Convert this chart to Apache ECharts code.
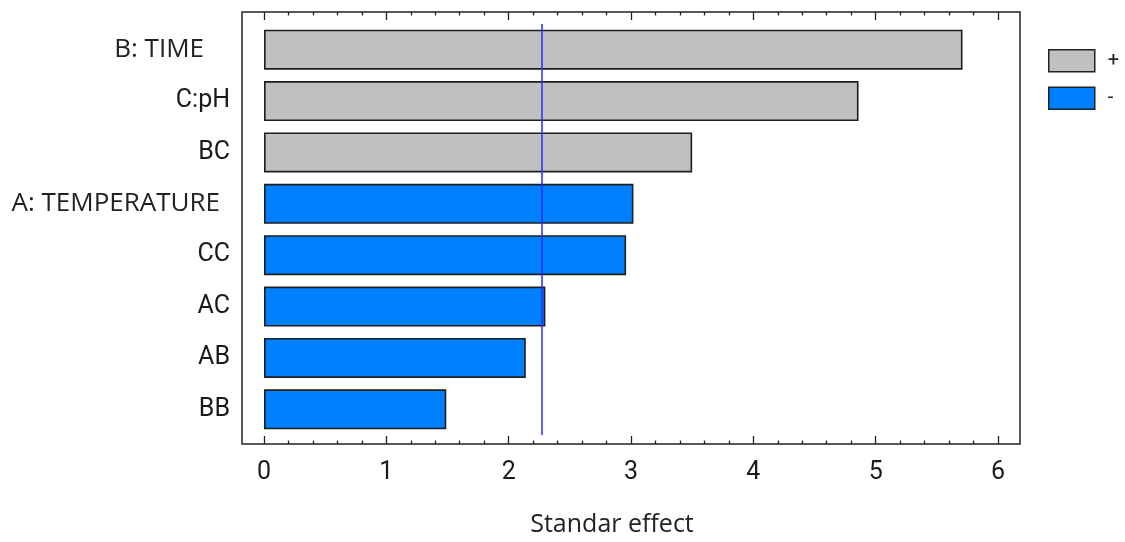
<!DOCTYPE html>
<html>
<head>
<meta charset="utf-8">
<script src="https://cdn.jsdelivr.net/npm/echarts@6/dist/echarts.min.js"></script>
<style>
html,body{margin:0;padding:0;background:#fff;}
#chart{width:1125px;height:542px;}
</style>
</head>
<body>
<div id="chart"></div>
<script>
// ---- data ----
const categories = ['B: TIME', 'C:pH', 'BC', 'A: TEMPERATURE', 'CC', 'AC', 'AB', 'BB'];
const effects    = [5.71, 4.86, 3.50, 3.02, 2.96, 2.30, 2.14, 1.49];
const signs      = ['+', '+', '+', '-', '-', '-', '-', '-'];
const criticalValue = 2.27;
const majorTicks = [0, 1, 2, 3, 4, 5, 6];
const minorTicks = [];
for (let i = 0; i < 6; i++) { for (let j = 1; j < 5; j++) { minorTicks.push(+(i + j * 0.2).toFixed(1)); } }
const xTitle = 'Standar effect';

const NARROW = "Roboto,'Liberation Sans',sans-serif";
const WIDE = "'Open Sans','Noto Sans',sans-serif";
const wideLabels = { 'B: TIME': 'w1', 'A: TEMPERATURE': 'w2' };

const plusData = effects.map((v, i) => signs[i] === '+' ? v : '-');
const minusData = effects.map((v, i) => signs[i] === '-' ? v : '-');

const XMIN = -0.18, XMAX = 6.18;
const tickAxis = (pos, values, len, labels) => ({
  type: 'value', gridIndex: 1, position: pos, min: XMIN, max: XMAX,
  axisLine: { show: false }, splitLine: { show: false },
  axisTick: { show: true, inside: true, length: len, customValues: values,
              lineStyle: { color: '#222', width: 1.3 } },
  axisLabel: labels ? { show: true, customValues: values, fontFamily: NARROW,
                        fontSize: 25, color: '#1a1a1a', margin: 16 } : { show: false }
});

const chart = echarts.init(document.getElementById('chart'), null, { renderer: 'canvas' });
const option = {
  animation: false,
  backgroundColor: '#fff',
  grid: [
    { left: 242, right: 105, top: 24, bottom: 107, show: false },
    { left: 242, right: 105, top: 12, bottom: 96, show: true, borderColor: '#222', borderWidth: 1.5, backgroundColor: 'transparent' }
  ],
  legend: {
    orient: 'vertical', left: 1043, top: 44, itemWidth: 46, itemHeight: 22, itemGap: 14,
    icon: 'rect',
    data: ['+', '-'],
    itemStyle: { borderColor: '#222', borderWidth: 1.5 },
    textStyle: { fontFamily: NARROW, fontSize: 20, color: '#222', padding: [0, 0, 0, 8] }
  },
  xAxis: [
    { type: 'value', gridIndex: 0, min: XMIN, max: XMAX, show: false },
    Object.assign(tickAxis('bottom', majorTicks, 8, true), {
      name: xTitle, nameLocation: 'middle', nameGap: 68,
      nameTextStyle: { fontFamily: WIDE, fontSize: 25, color: '#222', padding: [0, 38, 0, 0] }
    }),
    tickAxis('bottom', minorTicks, 3.5, false),
    tickAxis('top', majorTicks, 8, false),
    tickAxis('top', minorTicks, 3.5, false)
  ],
  yAxis: [
    {
      type: 'category', gridIndex: 0, data: categories, inverse: true,
      axisLine: { show: false }, axisTick: { show: false }, splitLine: { show: false },
      axisLabel: {
        margin: 12,
        formatter: (v) => `{${wideLabels[v] || 'n'}|${v}}`,
        rich: {
          n: { fontFamily: NARROW, fontSize: 25, color: '#1a1a1a' },
          w1: { fontFamily: WIDE, fontSize: 26, color: '#222', padding: [0, 26, 0, 0] },
          w2: { fontFamily: WIDE, fontSize: 26, color: '#222', padding: [0, 10, 0, 0] }
        }
      }
    },
    { type: 'value', gridIndex: 1, show: false, min: 0, max: 1 }
  ],
  series: [
    {
      name: '+', type: 'bar', xAxisIndex: 0, yAxisIndex: 0, data: plusData,
      barWidth: 40, barGap: '-100%',
      itemStyle: { color: '#c0c0c0', borderColor: '#1e1e1e', borderWidth: 1.6 },
      markLine: {
        silent: true, symbol: 'none', label: { show: false },
        lineStyle: { color: '#2a2aff', width: 1.5, type: 'solid' },
        data: [{ xAxis: criticalValue }]
      }
    },
    {
      name: '-', type: 'bar', xAxisIndex: 0, yAxisIndex: 0, data: minusData,
      barWidth: 40, barGap: '-100%',
      itemStyle: { color: '#0080ff', borderColor: '#1e1e1e', borderWidth: 1.6 }
    }
  ]
};
chart.setOption(option);
</script>
</body>
</html>
